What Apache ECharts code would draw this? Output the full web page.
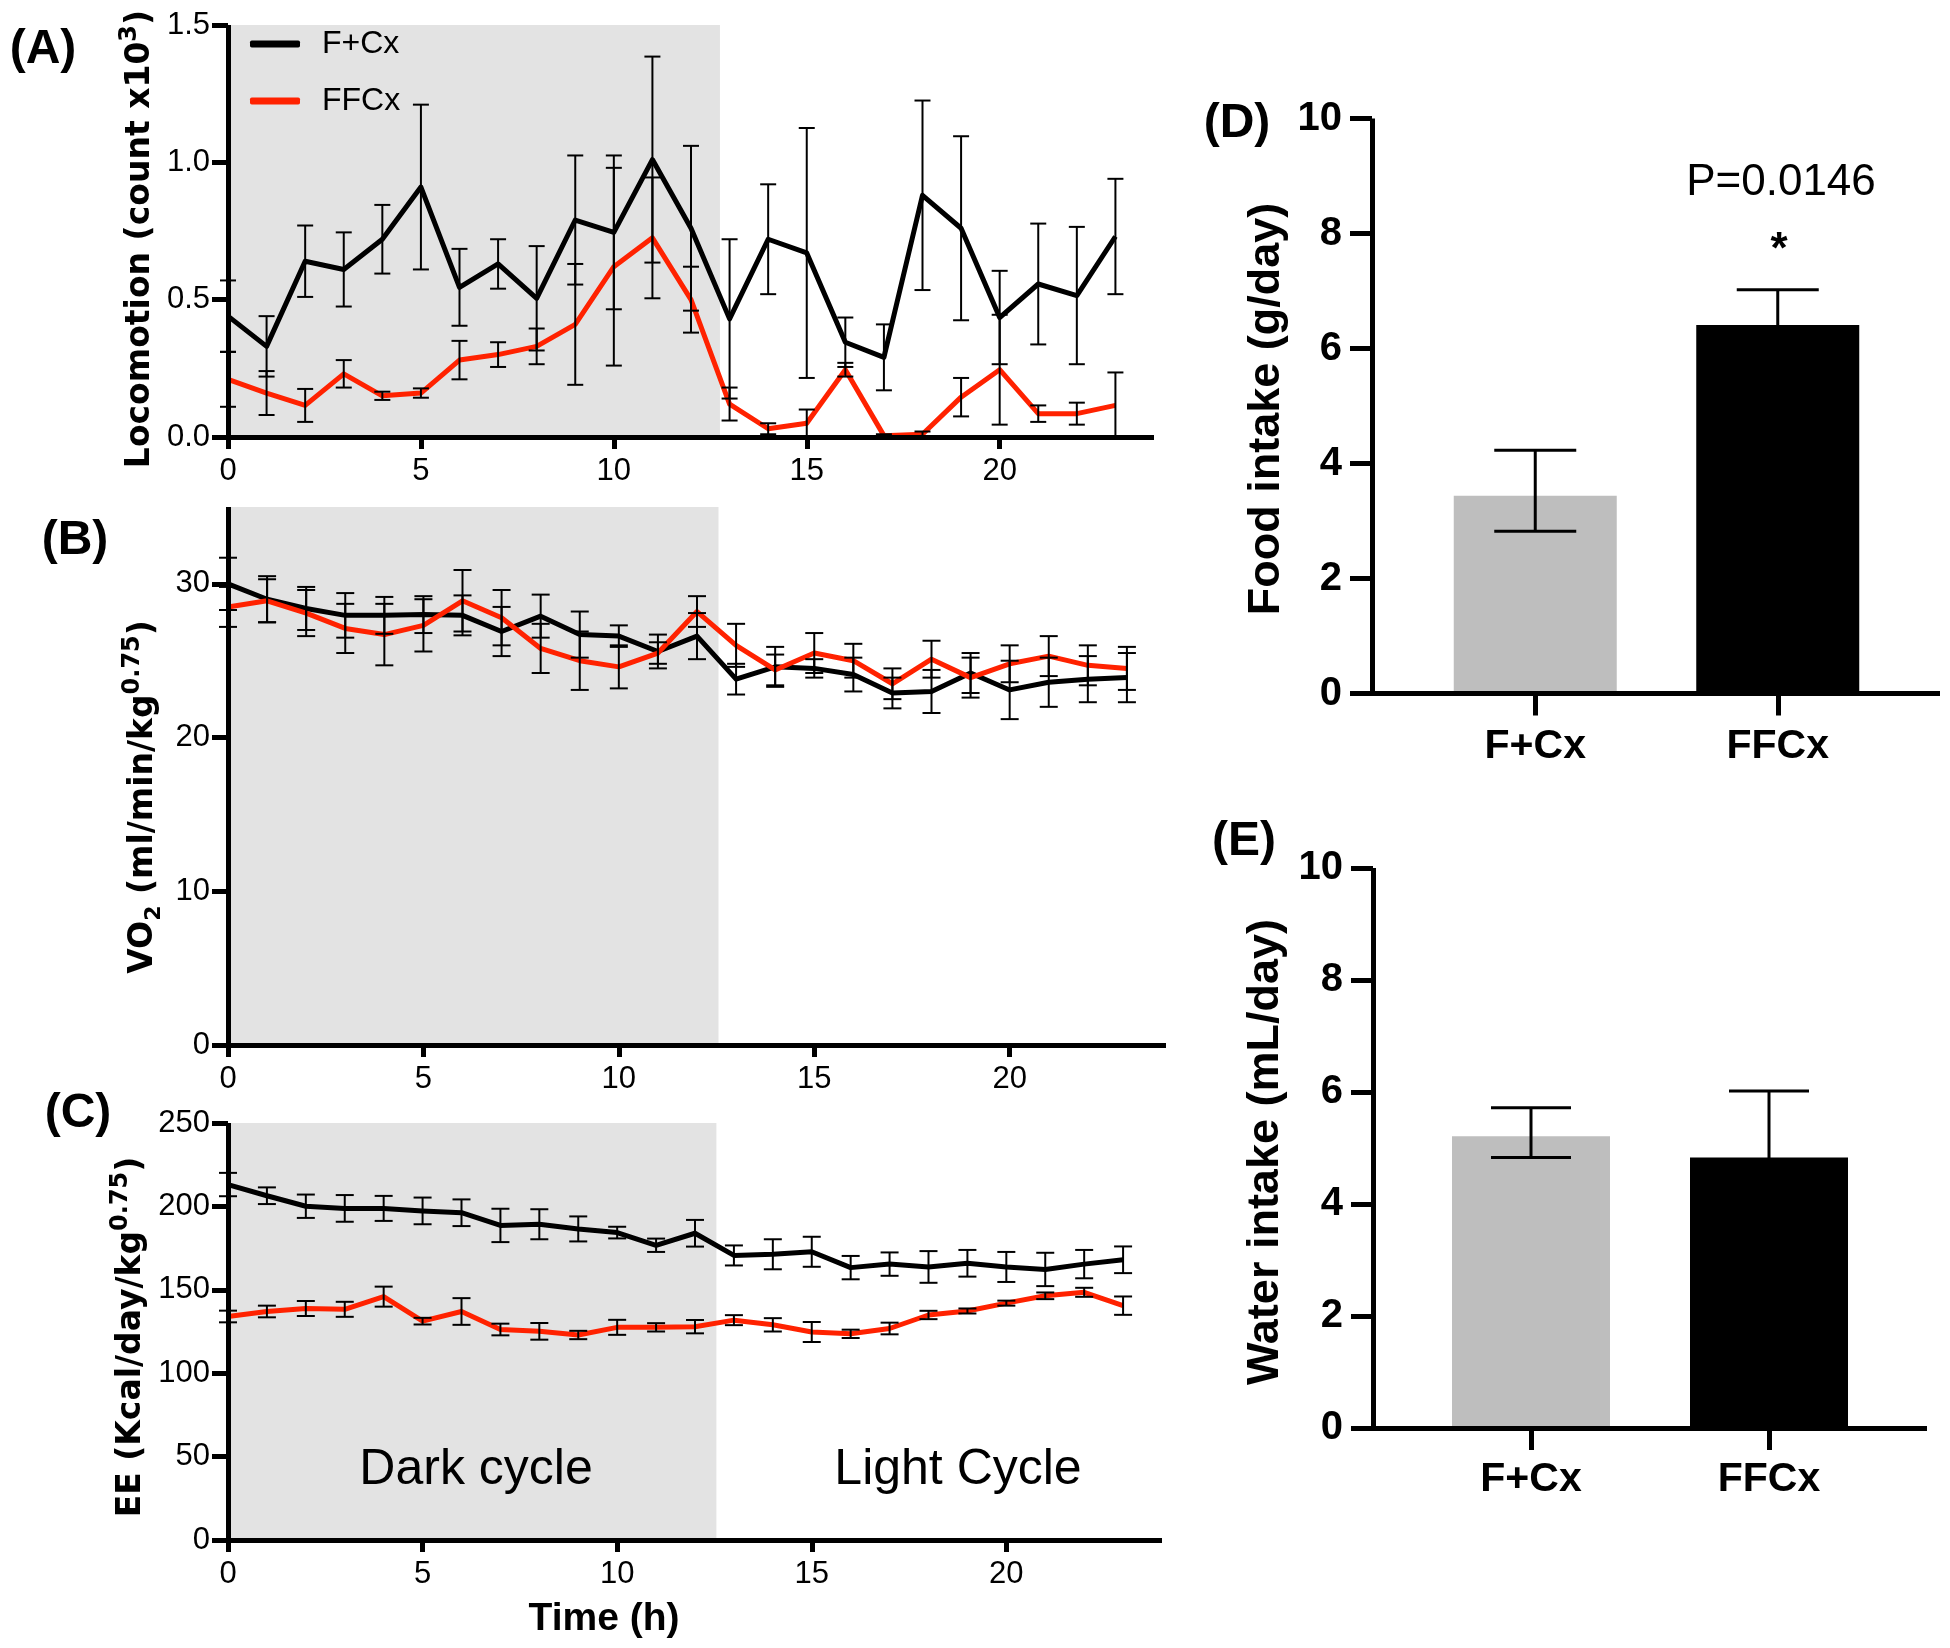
<!DOCTYPE html>
<html>
<head>
<meta charset="utf-8">
<script src="https://cdn.jsdelivr.net/npm/echarts@6/dist/echarts.min.js"></script>
<style>html,body{margin:0;padding:0;background:#fff}#c{width:1950px;height:1648px}</style>
</head>
<body>
<div id="c"></div>
<script>
// ---------------- data ----------------
const hours = [0,1,2,3,4,5,6,7,8,9,10,11,12,13,14,15,16,17,18,19,20,21,22,23];
const xTickValues = [0,5,10,15,20];
const darkCycleEnd = [12.75, 12.55, 12.55];   // hours where the shaded dark cycle ends (A, B, C)

// (A) Locomotion (count x10^3) mean ± SEM
const locoFCx     = [0.44,0.33,0.64,0.61,0.72,0.91,0.545,0.63,0.505,0.79,0.745,1.01,0.76,0.43,0.72,0.67,0.345,0.29,0.88,0.76,0.435,0.557,0.515,0.73];
const locoFCxErr  = [0.13,0.11,0.13,0.135,0.125,0.30,0.14,0.09,0.19,0.235,0.28,0.375,0.30,0.29,0.20,0.455,0.09,0.12,0.345,0.335,0.17,0.22,0.25,0.21];
const locoFFCx    = [0.21,0.16,0.115,0.23,0.15,0.16,0.28,0.30,0.33,0.41,0.62,0.725,0.50,0.12,0.03,0.05,0.245,0.005,0.01,0.145,0.245,0.085,0.085,0.115];
const locoFFCxErr = [0.10,0.08,0.06,0.05,0.015,0.017,0.07,0.045,0.065,0.22,0.36,0.22,0.12,0.06,0.02,0.05,0.025,0.005,0.01,0.07,0.20,0.03,0.04,0.12];

// (B) VO2 (ml/min/kg^0.75)
const vo2FCx     = [30.0,29.0,28.4,27.95,27.95,28.0,27.95,26.9,27.9,26.7,26.6,25.6,26.6,23.8,24.6,24.5,24.1,22.9,23.0,24.2,23.1,23.6,23.8,23.9];
const vo2FCxErr  = [1.7,1.5,1.4,1.45,1.2,1.2,1.3,1.6,1.4,1.5,0.7,1.1,1.5,1.0,1.3,0.6,1.1,1.0,1.4,1.3,1.9,1.6,1.5,1.6];
const vo2FFCx    = [28.5,28.9,28.1,27.1,26.7,27.3,28.9,27.8,25.8,25.0,24.6,25.5,28.2,26.0,24.4,25.5,25.0,23.5,25.1,23.9,24.8,25.3,24.7,24.5];
const vo2FFCxErr = [1.3,1.4,1.5,1.6,2.0,1.7,2.0,1.8,1.6,1.9,1.4,0.7,1.0,1.4,1.0,1.3,1.1,1.0,1.2,1.3,1.2,1.3,1.3,1.4];

// (C) EE (Kcal/day/kg^0.75)
const eeFCx     = [213.1,206.4,200.1,198.8,198.8,197.3,196.2,188.6,189.3,186.5,184.3,176.7,183.9,170.6,171.3,172.8,163.3,165.4,163.7,165.9,163.7,162.2,165.4,168.0];
const eeFCxErr  = [7,5,7,8,7.5,8,8,10,9,7.5,3.5,4,8,6,9,9,7,7,9.5,8,9,10,8.5,8];
const eeFFCx    = [134,137,138.8,138.3,145.9,131.2,137,126.2,125.1,122.9,127.5,127.5,127.9,131.8,129,124.7,123.6,126.8,134.9,137.3,142,146.4,148.5,140.5];
const eeFFCxErr = [3.5,3.5,4.5,4.5,6,2,8,3.5,5,2.5,4.5,2.5,4,3,4,6,2.5,3.5,2.5,1.5,1.5,2,2.7,5.5];

// (D) Food intake (g/day), (E) Water intake (mL/day)
const groups    = ['F+Cx', 'FFCx'];
const foodMean  = [3.44, 6.41];
const foodLow   = [2.82, 5.80];
const foodHigh  = [4.23, 7.02];
const waterMean = [5.21, 4.83];
const waterLow  = [4.83, 3.64];
const waterHigh = [5.72, 6.02];

// ---------------- styles ----------------
const SANS = "'Liberation Sans', Arial, Helvetica, sans-serif";
const WIDE = "'DejaVu Sans', Verdana, sans-serif";
const BLACK = '#000000';
const RED = '#ff2200';
const SHADE = '#e3e3e3';
const TICKFONT = 31;
const axisLine = {show: true, onZero: false, lineStyle: {color: BLACK, width: 5, cap: 'butt'}};

function timeXAxis(gi) {
  return {
    gridIndex: gi, type: 'value', min: 0, max: 24, z: 10,
    axisLine: axisLine,
    axisTick: {show: true, length: 12, lineStyle: {color: BLACK, width: 5}, customValues: xTickValues},
    axisLabel: {customValues: xTickValues, margin: 19, fontSize: TICKFONT, color: BLACK, fontFamily: SANS},
    splitLine: {show: false}
  };
}
function leftYAxis(gi, extra) {
  return Object.assign({
    gridIndex: gi, type: 'value', min: 0, z: 10,
    axisLine: axisLine,
    axisTick: {show: true, length: 16, lineStyle: {color: BLACK, width: 5}},
    axisLabel: {margin: 18, fontSize: TICKFONT, color: BLACK, fontFamily: SANS},
    splitLine: {show: false}
  }, extra);
}
function lineSeries(name, gi, values, color) {
  return {
    type: 'line', name: name, xAxisIndex: gi, yAxisIndex: gi, z: 3,
    data: hours.map((h, i) => [h, values[i]]),
    symbol: 'none', showSymbol: false,
    lineStyle: {color: color, width: 5, join: 'round'},
    itemStyle: {color: color}
  };
}
function errSeries(xi, yi, rows, capW, lw) {
  return {
    type: 'custom', xAxisIndex: xi, yAxisIndex: yi, z: 4, silent: true, clip: false,
    data: rows,
    encode: {x: 0, y: [1, 2]},
    renderItem: function (params, api) {
      const x = api.value(0), lo = api.value(1), hi = api.value(2);
      const p1 = api.coord([x, lo]), p2 = api.coord([x, hi]);
      const hw = capW / 2;
      const st = {stroke: BLACK, lineWidth: lw};
      return {type: 'group', children: [
        {type: 'line', shape: {x1: p1[0], y1: p1[1], x2: p2[0], y2: p2[1]}, style: st},
        {type: 'line', shape: {x1: p1[0] - hw, y1: p1[1], x2: p1[0] + hw, y2: p1[1]}, style: st},
        {type: 'line', shape: {x1: p2[0] - hw, y1: p2[1], x2: p2[0] + hw, y2: p2[1]}, style: st}
      ]};
    }
  };
}
function timeErrRows(mean, err) { return hours.map((h, i) => [h, mean[i] - err[i], mean[i] + err[i]]); }
function shadeSeries(gi, end) {
  return {
    type: 'line', xAxisIndex: gi, yAxisIndex: gi, data: [], z: 1, silent: true,
    markArea: {silent: true, itemStyle: {color: SHADE}, data: [[{xAxis: 0}, {xAxis: end}]]}
  };
}
function barCatAxis(gi, margin) {
  return {
    gridIndex: gi, type: 'category', data: groups, z: 10,
    axisLine: {show: false},
    axisTick: {show: true, alignWithLabel: true, length: 22, lineStyle: {color: BLACK, width: 5}},
    axisLabel: {margin: margin, fontSize: 41, fontWeight: 'bold', color: BLACK, fontFamily: SANS},
    splitLine: {show: false}
  };
}
function barLineXAxis(gi) {
  return {gridIndex: gi, type: 'value', min: 0, max: 1, z: 10, axisLine: axisLine,
          axisTick: {show: false}, axisLabel: {show: false}, splitLine: {show: false}};
}
function barYAxis(gi) {
  return {
    gridIndex: gi, type: 'value', min: 0, max: 10, interval: 2, z: 10,
    axisLine: axisLine,
    axisTick: {show: true, length: 22, lineStyle: {color: BLACK, width: 5}},
    axisLabel: {margin: 30, fontSize: 40, fontWeight: 'bold', color: BLACK, fontFamily: SANS},
    splitLine: {show: false}
  };
}
function hiddenY(gi) { return {gridIndex: gi, type: 'value', min: 0, max: 10, show: false}; }
function bars(gi, values, width) {
  return {
    type: 'bar', name: 'bars' + gi, xAxisIndex: gi, yAxisIndex: gi, z: 2, barWidth: width,
    data: values.map((v, i) => ({value: v, itemStyle: {color: i === 0 ? '#bebebe' : BLACK}}))
  };
}
function txt(text, x, y, size, weight, family, extra) {
  return Object.assign({type: 'text', x: x, y: y, z: 20, silent: true,
    style: {text: text, fill: BLACK, fontSize: size, fontWeight: weight, fontFamily: family,
            align: 'center', verticalAlign: 'middle'}}, extra || {});
}
const titleRich = {
  m: {fontSize: 33, fontWeight: 'bold', fontFamily: WIDE, lineHeight: 44, fill: BLACK},
  s: {fontSize: 24, fontWeight: 'bold', fontFamily: WIDE, lineHeight: 26, verticalAlign: 'top', fill: BLACK},
  b: {fontSize: 22, fontWeight: 'bold', fontFamily: WIDE, lineHeight: 12, verticalAlign: 'bottom', fill: BLACK}
};
function yTitle(text, x, y) {
  return {type: 'text', x: x, y: y, rotation: Math.PI / 2, z: 20, silent: true,
    style: {text: text, rich: titleRich, align: 'center', verticalAlign: 'middle', fill: BLACK,
            fontSize: 33, fontWeight: 'bold', fontFamily: WIDE}};
}
function barTitle(text, x, y) {
  return {type: 'text', x: x, y: y, rotation: Math.PI / 2, z: 20, silent: true,
    style: {text: text, align: 'center', verticalAlign: 'middle', fill: BLACK,
            fontSize: 45, fontWeight: 'bold', fontFamily: SANS}};
}

const chart = echarts.init(document.getElementById('c'), null, {renderer: 'canvas'});
chart.setOption({
  animation: false,
  backgroundColor: '#ffffff',
  grid: [
    {left: 228, top: 25, width: 926, height: 412, outerBoundsMode: 'none'},
    {left: 228, top: 507, width: 938, height: 538, outerBoundsMode: 'none'},
    {left: 228, top: 1123, width: 934, height: 417, outerBoundsMode: 'none'},
    {left: 1372, top: 118.5, width: 568, height: 575, outerBoundsMode: 'none'},
    {left: 1414, top: 118.5, width: 485, height: 575, outerBoundsMode: 'none'},
    {left: 1373, top: 868, width: 554, height: 560, outerBoundsMode: 'none'},
    {left: 1412, top: 868, width: 476, height: 560, outerBoundsMode: 'none'}
  ],
  xAxis: [timeXAxis(0), timeXAxis(1), timeXAxis(2), barLineXAxis(3), barCatAxis(4, 33), barLineXAxis(5), barCatAxis(6, 31)],
  yAxis: [
    leftYAxis(0, {max: 1.5, interval: 0.5, axisLabel: {margin: 18, fontSize: TICKFONT, color: BLACK, fontFamily: SANS, formatter: v => v.toFixed(1)}}),
    leftYAxis(1, {max: 35, axisTick: {show: true, length: 16, lineStyle: {color: BLACK, width: 5}, customValues: [0, 10, 20, 30]},
                  axisLabel: {margin: 18, fontSize: TICKFONT, color: BLACK, fontFamily: SANS, customValues: [0, 10, 20, 30]}}),
    leftYAxis(2, {max: 250, interval: 50}),
    barYAxis(3), hiddenY(4), barYAxis(5), hiddenY(6)
  ],
  legend: {
    left: 245, top: 23, orient: 'vertical', itemWidth: 50, itemHeight: 7, itemGap: 25,
    icon: 'roundRect', data: ['F+Cx', 'FFCx'], selectedMode: false,
    textStyle: {fontSize: 32, lineHeight: 32, color: BLACK, fontFamily: SANS, padding: [0, 0, 0, 17]}
  },
  series: [
    shadeSeries(0, darkCycleEnd[0]), shadeSeries(1, darkCycleEnd[1]), shadeSeries(2, darkCycleEnd[2]),
    lineSeries('F+Cx', 0, locoFCx, BLACK), lineSeries('FFCx', 0, locoFFCx, RED),
    errSeries(0, 0, timeErrRows(locoFCx, locoFCxErr), 16, 2), errSeries(0, 0, timeErrRows(locoFFCx, locoFFCxErr), 16, 2),
    lineSeries('F+Cx', 1, vo2FCx, BLACK), lineSeries('FFCx', 1, vo2FFCx, RED),
    errSeries(1, 1, timeErrRows(vo2FCx, vo2FCxErr), 18, 2), errSeries(1, 1, timeErrRows(vo2FFCx, vo2FFCxErr), 18, 2),
    lineSeries('F+Cx', 2, eeFCx, BLACK), lineSeries('FFCx', 2, eeFFCx, RED),
    errSeries(2, 2, timeErrRows(eeFCx, eeFCxErr), 18, 2), errSeries(2, 2, timeErrRows(eeFFCx, eeFFCxErr), 18, 2),
    bars(4, foodMean, 163),
    errSeries(4, 4, groups.map((g, i) => [i, foodLow[i], foodHigh[i]]), 82, 3),
    bars(6, waterMean, 158),
    errSeries(6, 6, groups.map((g, i) => [i, waterLow[i], waterHigh[i]]), 80, 3)
  ],
  graphic: [
    txt('(A)', 43, 50, 48, 'bold', SANS),
    txt('(B)', 75, 541, 48, 'bold', SANS),
    txt('(C)', 78, 1114, 48, 'bold', SANS),
    txt('(D)', 1237, 124, 48, 'bold', SANS),
    txt('(E)', 1244, 842, 48, 'bold', SANS),
    yTitle('{m|Locomotion (count x10}{s|3}{m|)}', 140, 239),
    yTitle('{m|VO}{b|2}{m| (ml/min/kg}{s|0.75}{m|)}', 143, 797),
    yTitle('{m|EE (Kcal/day/kg}{s|0.75}{m|)}', 131, 1337),
    barTitle('Food intake (g/day)', 1267, 409),
    barTitle('Water intake (mL/day)', 1266, 1152),
    txt('Time (h)', 604, 1619, 39, 'bold', SANS),
    txt('Dark cycle', 476, 1470, 50, 'normal', SANS),
    txt('Light Cycle', 958, 1470, 50, 'normal', SANS),
    txt('P=0.0146', 1781, 183, 44, 'normal', SANS),
    txt('*', 1779, 251, 44, 'bold', SANS)
  ]
});
</script>
</body>
</html>
